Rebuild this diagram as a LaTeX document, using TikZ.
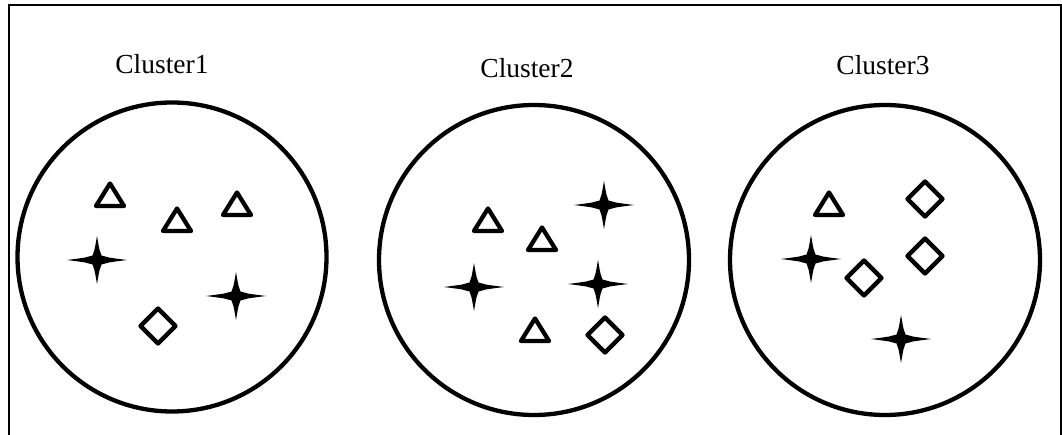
\documentclass[tikz,border=0pt]{standalone}
\usepackage{fontspec}
\setmainfont{Liberation Serif}
\begin{document}
\begin{tikzpicture}[x=1pt,y=-1pt,
  frame/.style={line width=2pt},
  cluster/.style={line width=4.3pt},
  glyph/.style={line width=4.3pt,line join=round,line cap=round},
  lbl/.style={font=\fontsize{27.5}{30}\selectfont,inner sep=0pt},
  pics/tri/.style={code={\draw[glyph] (0,-11.5) -- (14,11) -- (-14,11) -- cycle;}},
  pics/dia/.style={code={\draw[glyph] (0,-17.5) -- (17.5,0) -- (0,17.5) -- (-17.5,0) -- cycle;}},
  pics/spark/.style={code={\fill (30,0) .. controls (10,2.6) .. (4.5,4.5) .. controls (2.6,9) .. (0,24)
        .. controls (-2.6,9) .. (-4.5,4.5) .. controls (-10,2.6) .. (-30,0)
        .. controls (-10,-2.6) .. (-4.5,-4.5) .. controls (-2.6,-9) .. (0,-24)
        .. controls (2.6,-9) .. (4.5,-4.5) .. controls (10,-2.6) .. cycle;}}
]
\useasboundingbox (0,0) rectangle (1062,435);
\draw[frame] (9,445) -- (9,5) -- (1061,5) -- (1061,445);

% cluster 1
\node[lbl] (l1) at (162,64) {Cluster1};
\draw[cluster] (172,257) circle[radius=154.5];
\pic at (110,195) {tri};
\pic at (177,220) {tri};
\pic at (237,204) {tri};
\pic at (97,260) {spark};
\pic at (236,296) {spark};
\pic at (158,326) {dia};

% cluster 2
\node[lbl] (l2) at (527,68) {Cluster2};
\draw[cluster] (534,260) circle[radius=155];
\pic at (488,220) {tri};
\pic at (542,239) {tri};
\pic at (535,330) {tri};
\pic at (604,205) {spark};
\pic at (474,287) {spark};
\pic at (598,284) {spark};
\pic at (605,335) {dia};

% cluster 3
\node[lbl] (l3) at (883,65) {Cluster3};
\draw[cluster] (885,260) circle[radius=155];
\pic at (829,204) {tri};
\pic at (925,199) {dia};
\pic at (925,256) {dia};
\pic at (864,278) {dia};
\pic at (811,259) {spark};
\pic at (901,339) {spark};
\end{tikzpicture}
\end{document}
